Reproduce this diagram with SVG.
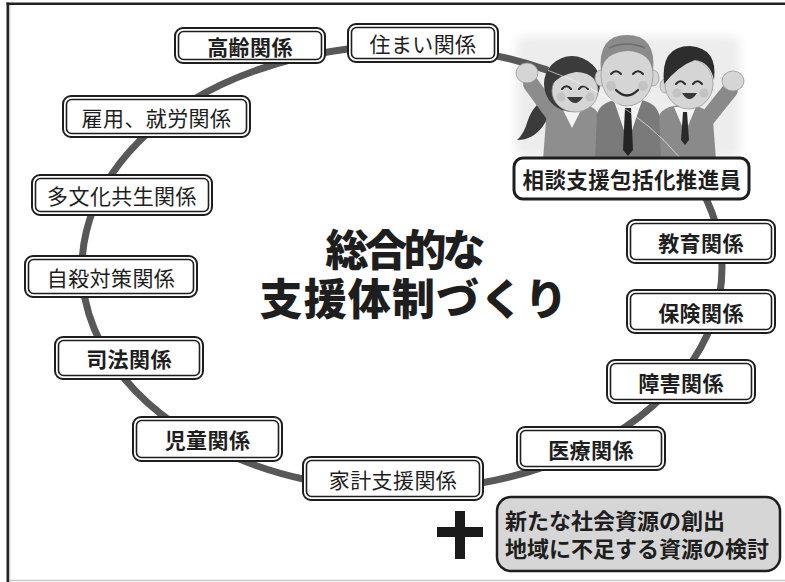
<svg xmlns="http://www.w3.org/2000/svg" width="785" height="582" viewBox="0 0 785 582">
  <defs>
    <style>
      text { font-family: "Noto Sans CJK JP", "Noto Sans", sans-serif; fill: #1e1e1e; }
      .lbl { font-size: 21px; letter-spacing: 0.4px; text-anchor: middle; dominant-baseline: central; }
      .b { font-weight: 700; }
      .r { font-weight: 400; }
      .outer { fill: #ffffff; stroke: #1e1e1e; stroke-width: 2; }
      .inner { fill: none; stroke: #1e1e1e; stroke-width: 1.6; }
      .ring { fill: none; stroke: #585858; stroke-width: 7; }
      .title { font-size: 43px; font-weight: 900; text-anchor: middle; }
      .note { font-size: 22px; font-weight: 700; }
      .skin { fill: #d5d5d5; stroke: #9a9a9a; stroke-width: 0.8; }
      .eye { fill: none; stroke: #2a2a2a; stroke-width: 2; stroke-linecap: round; }
      .shirt { fill: #f3f3f3; }
    </style>
    <filter id="haze" x="-10%" y="-10%" width="120%" height="120%">
      <feGaussianBlur stdDeviation="5"/>
    </filter>
  </defs>

  <!-- frame -->
  <g id="frame">
    <line x1="7" y1="580.5" x2="785" y2="580.5" stroke="#c8c8c8" stroke-width="1.5"/>
    <line x1="7.8" y1="2.5" x2="7.8" y2="582" stroke="#222" stroke-width="2.6"/>
    <line x1="9.8" y1="5" x2="9.8" y2="582" stroke="#bdbdbd" stroke-width="1"/>
    <line x1="6.5" y1="3.8" x2="785" y2="3.8" stroke="#222" stroke-width="2.6"/>
  </g>

  <!-- soft backdrop behind the illustration -->
  <rect x="516" y="36" width="224" height="122" rx="10" fill="#ededed" filter="url(#haze)"/>

  <!-- connectors: the ring joining every field -->
  <g id="connectors">
    <path class="ring" d="M548 70.4 A320 222 0 1 0 690 171.2"/>
  </g>

  <!-- illustration: three cheering staff members -->
  <g id="people">
    <!-- woman -->
    <g id="woman">
      <path d="M554 94 Q534 102 528 120 Q524 134 517 140 Q533 140 543 126 Q552 112 558 102 Z" fill="#3b3b3b"/>
      <line x1="553" y1="114" x2="531" y2="84" stroke="#8c8c8c" stroke-width="16" stroke-linecap="round"/>
      <ellipse cx="527" cy="73" rx="11" ry="10" class="skin"/>
      <path d="M543 160 L546 120 Q550 102 572 102 Q595 102 602 120 L604 160 Z" fill="#8e8e8e"/>
      <path d="M560 104 L572 128 L584 104 Z" class="shirt"/>
      <ellipse cx="572" cy="84" rx="28" ry="28" fill="#3b3b3b"/>
      <ellipse cx="575" cy="91" rx="23" ry="21" class="skin"/>
      <path d="M550 86 Q554 60 578 60 Q601 62 600 86 Q592 72 576 72 Q561 74 550 86 Z" fill="#3b3b3b"/>
      <circle cx="561" cy="97" r="4.5" fill="#c3c3c3"/>
      <circle cx="590" cy="97" r="4.5" fill="#c3c3c3"/>
      <path class="eye" d="M562 89 q4.5 -5.5 9 0"/>
      <path class="eye" d="M579 89 q4.5 -5.5 9 0"/>
      <path d="M567 97 q8 12 16 0 Z" fill="#3a3a3a"/>
    </g>
    <!-- younger man on the right -->
    <g id="man-right">
      <line x1="706" y1="120" x2="730" y2="90" stroke="#8a8a8a" stroke-width="16" stroke-linecap="round"/>
      <ellipse cx="733" cy="81" rx="11" ry="10" class="skin"/>
      <path d="M655 160 L657 120 Q661 105 684 105 Q708 105 713 120 L716 160 Z" fill="#8a8a8a"/>
      <path d="M674 107 L685 133 L696 107 Z" class="shirt"/>
      <path d="M683 112 L687 112 L689 140 L685 145 L681 140 Z" fill="#2a2a2a"/>
      <ellipse cx="665" cy="86" rx="5" ry="7" class="skin"/>
      <ellipse cx="689" cy="84" rx="24" ry="25" class="skin"/>
      <path d="M664 84 Q660 46 690 46 Q718 48 714 80 Q710 62 695 60 Q678 66 664 84 Z" fill="#2d2d2d"/>
      <circle cx="677" cy="93" r="4.5" fill="#c3c3c3"/>
      <circle cx="704" cy="93" r="4.5" fill="#c3c3c3"/>
      <path class="eye" d="M676 84 q4.5 -5.5 9 0"/>
      <path class="eye" d="M693 84 q4.5 -5.5 9 0"/>
      <path d="M682 93 q7.5 12 15 0 Z" fill="#3a3a3a"/>
    </g>
    <!-- older man in the centre -->
    <g id="man-centre">
      <path d="M595 160 L597 114 Q601 99 628 99 Q655 99 659 114 L661 160 Z" fill="#7a7a7a"/>
      <path d="M614 101 L628 142 L642 101 Z" class="shirt"/>
      <path d="M625 108 L631 108 L633 150 L628 156 L623 150 Z" fill="#242424"/>
      <ellipse cx="601" cy="78" rx="6" ry="8" class="skin"/>
      <ellipse cx="653" cy="78" rx="6" ry="8" class="skin"/>
      <ellipse cx="627" cy="75" rx="26" ry="31" class="skin"/>
      <path d="M601 72 Q597 35 627 35 Q657 35 653 72 Q650 52 628 51 Q604 52 601 72 Z" fill="#8b8b8b"/>
      <path d="M609 48 Q627 40 645 48" fill="none" stroke="#6e6e6e" stroke-width="1.5"/>
      <circle cx="611" cy="86" r="5" fill="#c3c3c3"/>
      <circle cx="643" cy="86" r="5" fill="#c3c3c3"/>
      <path class="eye" d="M611 74 q5 -5.5 10 0"/>
      <path class="eye" d="M633 74 q5 -5.5 10 0"/>
      <path d="M616 90 q11 11 22 0" fill="none" stroke="#2a2a2a" stroke-width="2.2" stroke-linecap="round"/>
    </g>
    <!-- faint trace of the ring crossing the illustration -->
    <path d="M548 70.4 A320 222 0 0 1 690 171.2" fill="none" stroke="#ffffff" stroke-width="1" opacity="0.6"/>
  </g>

  <!-- fields around the ring -->
  <g id="n-koureisha">
    <rect class="outer" x="175" y="28" width="150" height="35" rx="8"/>
    <rect class="inner" x="178.5" y="31.5" width="143" height="28" rx="5"/>
    <text class="lbl b" x="250" y="45.5">高齢関係</text>
  </g>
  <g id="n-sumai">
    <rect class="outer" x="348" y="24" width="150" height="38" rx="8"/>
    <rect class="inner" x="351.5" y="27.5" width="143" height="31" rx="5"/>
    <text class="lbl r" x="423" y="43">住まい関係</text>
  </g>
  <g id="n-koyou">
    <rect class="outer" x="63" y="96" width="187" height="41" rx="8"/>
    <rect class="inner" x="66.5" y="99.5" width="180" height="34" rx="5"/>
    <text class="lbl r" x="156.5" y="116.5">雇用、就労関係</text>
  </g>
  <g id="n-tabunka">
    <rect class="outer" x="32" y="175" width="180" height="40" rx="8"/>
    <rect class="inner" x="35.5" y="178.5" width="173" height="33" rx="5"/>
    <text class="lbl r" x="122" y="195">多文化共生関係</text>
  </g>
  <g id="n-jisatsu">
    <rect class="outer" x="25" y="256" width="172" height="41" rx="8"/>
    <rect class="inner" x="28.5" y="259.5" width="165" height="34" rx="5"/>
    <text class="lbl r" x="111" y="276.5">自殺対策関係</text>
  </g>
  <g id="n-shihou">
    <rect class="outer" x="55" y="337" width="148" height="42" rx="8"/>
    <rect class="inner" x="58.5" y="340.5" width="141" height="35" rx="5"/>
    <text class="lbl b" x="129" y="358">司法関係</text>
  </g>
  <g id="n-jidou">
    <rect class="outer" x="133" y="417" width="149" height="44" rx="8"/>
    <rect class="inner" x="136.5" y="420.5" width="142" height="37" rx="5"/>
    <text class="lbl b" x="207.5" y="439">児童関係</text>
  </g>
  <g id="n-kakei">
    <rect class="outer" x="303" y="457" width="180" height="43" rx="8"/>
    <rect class="inner" x="306.5" y="460.5" width="173" height="36" rx="5"/>
    <text class="lbl r" x="393" y="478.5">家計支援関係</text>
  </g>
  <g id="n-iryou">
    <rect class="outer" x="517" y="427" width="148" height="43" rx="8"/>
    <rect class="inner" x="520.5" y="430.5" width="141" height="36" rx="5"/>
    <text class="lbl b" x="591" y="448.5">医療関係</text>
  </g>
  <g id="n-shougai">
    <rect class="outer" x="607" y="360" width="148" height="43" rx="8"/>
    <rect class="inner" x="610.5" y="363.5" width="141" height="36" rx="5"/>
    <text class="lbl b" x="681" y="381.5">障害関係</text>
  </g>
  <g id="n-hoken">
    <rect class="outer" x="627" y="290" width="148" height="43" rx="8"/>
    <rect class="inner" x="630.5" y="293.5" width="141" height="36" rx="5"/>
    <text class="lbl b" x="701" y="311.5">保険関係</text>
  </g>
  <g id="n-kyouiku">
    <rect class="outer" x="627" y="220" width="148" height="43" rx="8"/>
    <rect class="inner" x="630.5" y="223.5" width="141" height="36" rx="5"/>
    <text class="lbl b" x="701" y="241.5">教育関係</text>
  </g>
  <g id="n-soudan">
    <rect x="514" y="158" width="235" height="41" rx="9" fill="#ffffff" stroke="#1e1e1e" stroke-width="3"/>
    <text class="lbl b" x="632" y="178.5" style="font-size:21.5px">相談支援包括化推進員</text>
  </g>

  <!-- central heading -->
  <g id="heading">
    <text class="title" x="405.5" y="266" textLength="160" lengthAdjust="spacing">総合的な</text>
    <text class="title" x="413.5" y="315" textLength="308" lengthAdjust="spacing">支援体制づくり</text>
  </g>

  <!-- plus sign and additional note -->
  <g id="plus">
    <rect x="437" y="527" width="46" height="10" fill="#1a1a1a"/>
    <rect x="455" y="511" width="10" height="48" fill="#1a1a1a"/>
  </g>
  <g id="n-shigen">
    <rect x="497" y="497" width="283" height="74" rx="14" fill="#d6d6d6" stroke="#1e1e1e" stroke-width="2.5"/>
    <text class="note" x="505" y="529">新たな社会資源の創出</text>
    <text class="note" x="505" y="557">地域に不足する資源の検討</text>
  </g>
</svg>
